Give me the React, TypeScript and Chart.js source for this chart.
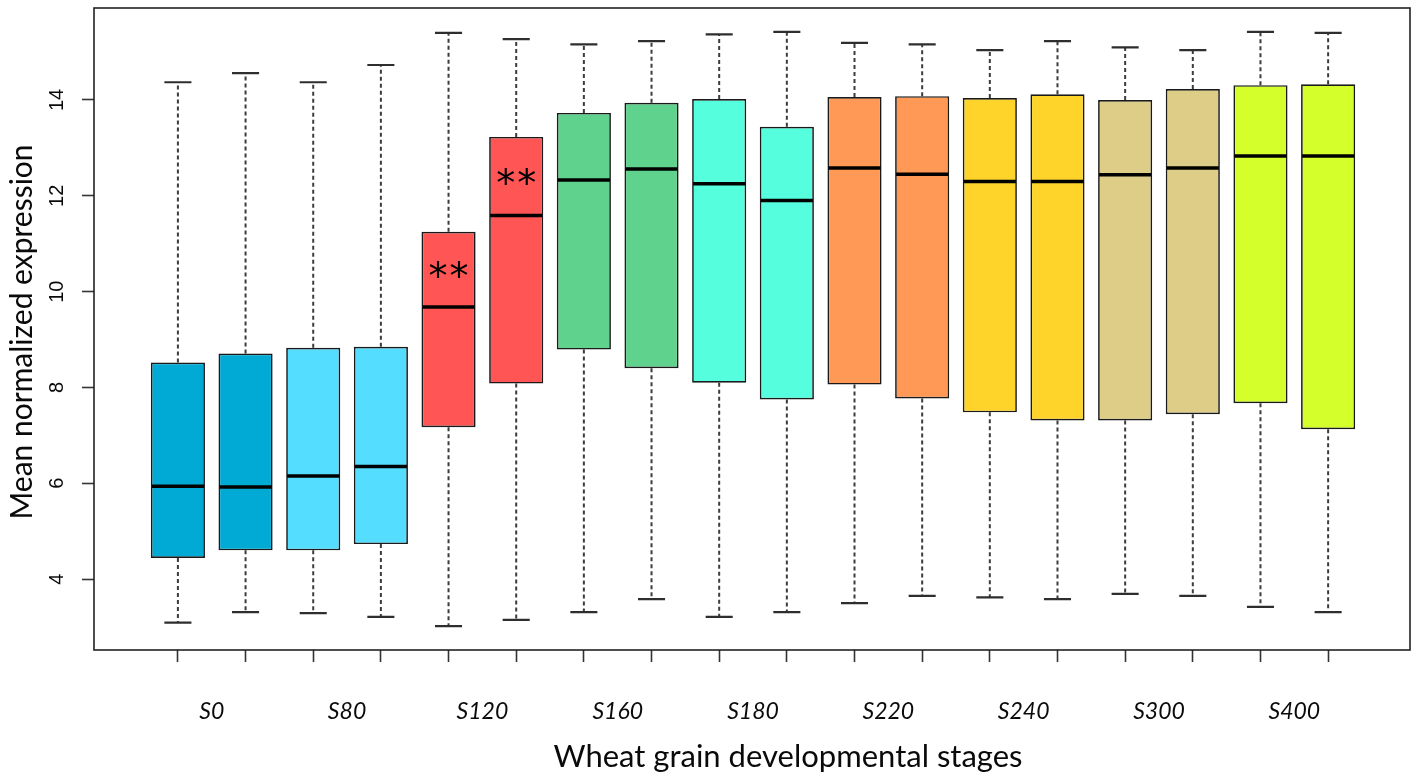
import React, { useEffect, useRef } from "react";
import { Chart, registerables } from "chart.js";

Chart.register(...registerables);

// Developmental stages; each stage has two replicate boxes.
const stages = ["S0", "S80", "S120", "S160", "S180", "S220", "S240", "S300", "S400"];

// Five-number summaries, one entry per box (18 boxes).
const whiskerLow = [3.09, 3.31, 3.29, 3.21, 3.02, 3.15, 3.31, 3.58, 3.21, 3.31, 3.5, 3.65, 3.62, 3.58, 3.69, 3.65, 3.42, 3.31];
const lowerQuartile = [4.44, 4.6, 4.6, 4.73, 7.17, 8.08, 8.79, 8.4, 8.1, 7.75, 8.06, 7.77, 7.48, 7.31, 7.31, 7.44, 7.67, 7.13];
const median = [5.94, 5.92, 6.15, 6.35, 9.68, 11.59, 12.33, 12.56, 12.25, 11.9, 12.58, 12.45, 12.3, 12.3, 12.44, 12.58, 12.83, 12.83];
const upperQuartile = [8.52, 8.71, 8.83, 8.85, 11.25, 13.23, 13.73, 13.94, 14.02, 13.44, 14.06, 14.08, 14.04, 14.12, 14.0, 14.23, 14.31, 14.33];
const whiskerHigh = [14.37, 14.56, 14.37, 14.73, 15.4, 15.27, 15.16, 15.23, 15.37, 15.42, 15.19, 15.16, 15.04, 15.23, 15.1, 15.04, 15.42, 15.4];

// Significance marks shown inside boxes.
const significance = ["", "", "", "", "**", "**", "", "", "", "", "", "", "", "", "", "", "", ""];

// Fill colour per stage.
const stageColors = ["#00AAD4", "#55DDFF", "#FF5555", "#5FD38D", "#55FFDD", "#FF9955", "#FFD42A", "#DECD87", "#D4FF2A"];

const yTickValues = [4, 6, 8, 10, 12, 14];

const xTitle = "Wheat grain developmental stages";
const yTitle = "Mean normalized expression";

const boxPositions = median.map((_, i) => i + 1);

const boxPlotDecor = {
  id: "boxPlotDecor",
  beforeDatasetsDraw(chart: any) {
    const { ctx } = chart;
    const xs = chart.scales.x;
    const ys = chart.scales.y;
    const bars = chart.getDatasetMeta(0).data;
    ctx.save();
    bars.forEach((bar: any, i: number) => {
      const px = xs.getPixelForValue(boxPositions[i]);
      const staple = bar.width / 4;
      // dashed whiskers
      ctx.strokeStyle = "#3c3c3c";
      ctx.lineWidth = 2;
      ctx.setLineDash([4, 3]);
      ctx.beginPath();
      ctx.moveTo(px, ys.getPixelForValue(upperQuartile[i]));
      ctx.lineTo(px, ys.getPixelForValue(whiskerHigh[i]));
      ctx.moveTo(px, ys.getPixelForValue(lowerQuartile[i]));
      ctx.lineTo(px, ys.getPixelForValue(whiskerLow[i]));
      ctx.stroke();
      // staples
      ctx.setLineDash([]);
      ctx.lineWidth = 2.2;
      ctx.strokeStyle = "#2e2e2e";
      ctx.beginPath();
      const yh = ys.getPixelForValue(whiskerHigh[i]);
      const yl = ys.getPixelForValue(whiskerLow[i]);
      ctx.moveTo(px - staple, yh);
      ctx.lineTo(px + staple, yh);
      ctx.moveTo(px - staple, yl);
      ctx.lineTo(px + staple, yl);
      ctx.stroke();
    });
    ctx.restore();
  },
  afterDatasetsDraw(chart: any) {
    const { ctx } = chart;
    const xs = chart.scales.x;
    const ys = chart.scales.y;
    const bars = chart.getDatasetMeta(0).data;
    ctx.save();
    bars.forEach((bar: any, i: number) => {
      const px = xs.getPixelForValue(boxPositions[i]);
      const half = bar.width / 2;
      const my = ys.getPixelForValue(median[i]);
      ctx.strokeStyle = "#000";
      ctx.lineWidth = 3.5;
      ctx.beginPath();
      ctx.moveTo(px - half + 1, my);
      ctx.lineTo(px + half - 1, my);
      ctx.stroke();

      const mark = significance[i];
      if (mark) {
        const cy = ys.getPixelForValue((median[i] + upperQuartile[i]) / 2);
        ctx.font = "38px 'DejaVu Sans'";
        ctx.fillStyle = "#000";
        ctx.textAlign = "center";
        ctx.textBaseline = "alphabetic";
        const m = ctx.measureText("*");
        const off = (m.actualBoundingBoxAscent - m.actualBoundingBoxDescent) / 2;
        const gap = 10.5;
        for (let k = 0; k < mark.length; k++) {
          const dx = (k - (mark.length - 1) / 2) * gap * 2;
          ctx.fillText("*", px + dx, cy + off);
        }
      }
    });
    ctx.restore();
  },
  afterDraw(chart: any) {
    const { ctx, chartArea } = chart;
    const xs = chart.scales.x;
    const ys = chart.scales.y;
    ctx.save();
    // plot frame
    ctx.strokeStyle = "#222";
    ctx.lineWidth = 1.6;
    ctx.strokeRect(chartArea.left, chartArea.top, chartArea.right - chartArea.left, chartArea.bottom - chartArea.top);

    // y tick labels, rotated as in base R graphics
    ctx.fillStyle = "#0a0a0a";
    ctx.font = "20px 'Liberation Sans'";
    ctx.textAlign = "center";
    ctx.textBaseline = "middle";
    yTickValues.forEach((v) => {
      ctx.save();
      ctx.translate(chartArea.left - 37, ys.getPixelForValue(v));
      ctx.rotate(-Math.PI / 2);
      ctx.fillText(String(v), 0, 0);
      ctx.restore();
    });

    // stage labels, centred under each pair of boxes
    ctx.font = "italic 23px Lato";
    stages.forEach((s, k) => {
      const px = xs.getPixelForValue(boxPositions[2 * k] + 0.5);
      ctx.fillText(s, px, chartArea.bottom + 62);
    });

    // axis titles
    ctx.font = "31px Lato";
    ctx.fillText(xTitle, 788, chartArea.bottom + 107);
    ctx.font = "30px Lato";
    ctx.save();
    ctx.translate(22, (chartArea.top + chartArea.bottom) / 2 + 3);
    ctx.rotate(-Math.PI / 2);
    ctx.fillText(yTitle, 0, 0);
    ctx.restore();
    ctx.restore();
  },
};

export default function App() {
  const canvasRef = useRef<HTMLCanvasElement | null>(null);

  useEffect(() => {
    const canvas = canvasRef.current;
    if (!canvas) return;
    const tickGrid = {
      drawOnChartArea: false,
      drawTicks: true,
      tickLength: 12,
      tickColor: "#333",
      tickWidth: 1.6,
      offset: false,
    };
    const chart = new Chart(canvas, {
      type: "bar",
      data: {
        datasets: [
          {
            data: boxPositions.map((x, i) => ({ x, y: [lowerQuartile[i], upperQuartile[i]] })) as any,
            backgroundColor: boxPositions.map((_, i) => stageColors[Math.floor(i / 2)]),
            borderColor: "#1a1a1a",
            borderWidth: 1.7,
            borderSkipped: false,
            barPercentage: 0.8,
            categoryPercentage: 1,
          },
        ],
      },
      options: {
        animation: false,
        responsive: true,
        maintainAspectRatio: false,
        layout: { padding: { top: 8, right: 6, left: 0, bottom: 0 } },
        plugins: { legend: { display: false }, tooltip: { enabled: false } },
        scales: {
          x: {
            type: "linear",
            min: -0.24,
            max: 19.21,
            offset: false,
            afterBuildTicks: (s: any) => {
              s.ticks = boxPositions.map((v) => ({ value: v }));
            },
            afterFit: (s: any) => {
              s.height = 126;
            },
            ticks: { display: false },
            grid: tickGrid,
            border: { display: false },
          },
          y: {
            type: "linear",
            min: 2.52,
            max: 15.92,
            afterBuildTicks: (s: any) => {
              s.ticks = yTickValues.map((v) => ({ value: v }));
            },
            afterFit: (s: any) => {
              s.width = 94;
            },
            ticks: { display: false },
            grid: tickGrid,
            border: { display: false },
          },
        },
      } as any,
      plugins: [boxPlotDecor],
    });
    return () => chart.destroy();
  }, []);

  return (
    <div style={{ position: "absolute", left: 0, top: 0, width: 1416, height: 776, background: "#fff" }}>
      <canvas ref={canvasRef} />
    </div>
  );
}
